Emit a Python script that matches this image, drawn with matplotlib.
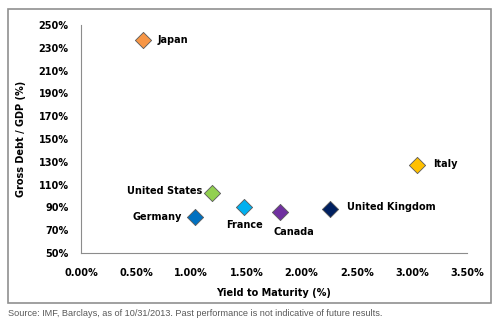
import matplotlib.pyplot as plt
from matplotlib.patches import Rectangle
from matplotlib.ticker import FuncFormatter, MultipleLocator

# Data
countries = ['Japan', 'United States', 'Germany', 'France', 'Canada', 'United Kingdom', 'Italy']
yields = [0.56, 1.19, 1.03, 1.48, 1.80, 2.26, 3.05]       # %
debt = [237, 103, 82, 90, 86, 89, 127]                    # % of GDP
colors = ['#F79646', '#92D050', '#0070C0', '#00B0F0', '#7030A0', '#002060', '#FFC000']
y_ticks = [50, 70, 90, 110, 130, 150, 170, 190, 210, 230, 250]
# label offsets in points and alignment
offsets = [(11, 0, 'left'),
           (-7, 1, 'right'),
           (-9.5, 0, 'right'),
           (0, -13, 'center'),
           (-4.5, -14.5, 'left'),
           (12, 1, 'left'),
           (11.5, 1, 'left')]

fig = plt.figure(figsize=(5, 3.26), dpi=100)
fig.patches.append(Rectangle((8 / 500, 1 - 303 / 326), 483 / 500, 294 / 326,
                             transform=fig.transFigure, fill=False,
                             edgecolor='#909090', linewidth=1.2))

ax = fig.add_axes([81 / 500, 1 - 253 / 326, 386 / 500, 228 / 326])
for x, y, c, name, (dx, dy, ha) in zip(yields, debt, colors, countries, offsets):
    ax.scatter(x, y, marker='D', s=68, color=c, edgecolor='#595959', linewidth=0.6, zorder=3)
    ax.annotate(name, (x, y), xytext=(dx, dy), textcoords='offset points',
                ha=ha, va='center', fontsize=7, fontweight='bold', color='black')

ax.set_xlim(0, 3.5)
ax.set_ylim(50, 250)
ax.xaxis.set_major_locator(MultipleLocator(0.5))
ax.set_yticks(y_ticks)
ax.xaxis.set_major_formatter(FuncFormatter(lambda v, p: f'{v:.2f}%'))
ax.yaxis.set_major_formatter(FuncFormatter(lambda v, p: f'{v:.0f}%'))
ax.tick_params(length=0, labelsize=7)
ax.tick_params(axis='x', pad=11)
ax.tick_params(axis='y', pad=9)
for lbl in ax.get_xticklabels() + ax.get_yticklabels():
    lbl.set_fontweight('bold')
for s in ['top', 'right']:
    ax.spines[s].set_visible(False)
for s in ['left', 'bottom']:
    ax.spines[s].set_color('#8c8c8c')
    ax.spines[s].set_linewidth(0.8)

ax.set_xlabel('Yield to Maturity (%)', fontsize=7, fontweight='bold', labelpad=7)
ax.set_ylabel('Gross Debt / GDP (%)', fontsize=7, fontweight='bold', labelpad=9)

fig.text(8 / 500, 1 - 314 / 326, 'Source: IMF, Barclays, as of 10/31/2013. Past performance is not indicative of future results.',
         fontsize=6.6, color='#595959', family='Liberation Sans', va='center')

fig.savefig('out.png', dpi=100)
